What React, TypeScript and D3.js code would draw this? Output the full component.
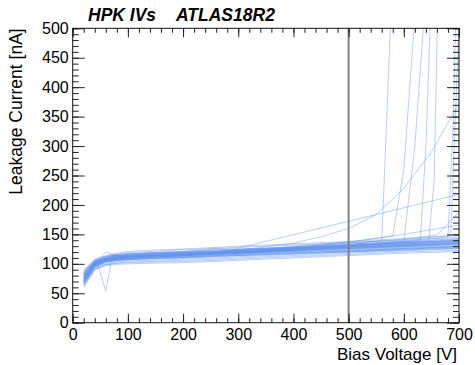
import React, { useEffect, useRef } from "react";
import * as d3 from "d3";

// shared bias-voltage steps for the "normal" sensors
const voltages = [20, 40, 60, 80, 100, 140, 200, 260, 300, 400, 500, 600, 700];

// leakage current [nA] per sensor, same order as voltages
const bandCurves: number[][] = [
  [62, 90, 97, 99, 100, 101, 102, 104, 106, 110, 114, 118, 121],
  [66, 92, 99, 101, 102, 103, 104, 106, 108, 112, 116, 120, 123],
  [70, 97, 104, 107, 108, 109, 111, 113, 114, 117, 120, 123, 126],
  [72, 98, 105, 108, 109, 111, 112, 114, 115, 118, 121, 124, 127],
  [75, 99, 106, 109, 110, 112, 113, 115, 116, 119, 122, 126, 129],
  [68, 96, 104, 108, 110, 112, 114, 116, 117, 120, 123, 127, 130],
  [78, 101, 107, 110, 111, 113, 114, 116, 118, 121, 124, 128, 131],
  [80, 102, 108, 111, 112, 114, 115, 117, 119, 122, 126, 129, 133],
  [64, 93, 100, 103, 105, 106, 108, 110, 112, 116, 120, 125, 129],
  [82, 103, 109, 112, 113, 115, 116, 118, 120, 123, 127, 131, 134],
  [74, 100, 107, 110, 112, 114, 116, 118, 119, 123, 126, 130, 134],
  [85, 104, 110, 113, 114, 116, 118, 120, 121, 125, 128, 132, 136],
  [77, 101, 108, 112, 113, 115, 117, 119, 121, 124, 128, 132, 137],
  [88, 106, 111, 114, 115, 117, 119, 121, 123, 126, 130, 134, 138],
  [71, 98, 106, 110, 112, 114, 116, 119, 120, 124, 129, 133, 138],
  [83, 104, 110, 114, 116, 118, 120, 122, 124, 127, 131, 136, 140],
  [79, 102, 109, 113, 115, 117, 119, 121, 122, 126, 130, 134, 139],
  [90, 108, 113, 116, 117, 119, 121, 123, 125, 128, 132, 137, 142],
  [60, 90, 98, 101, 103, 104, 106, 108, 110, 114, 118, 122, 126],
  [86, 105, 112, 115, 117, 119, 121, 124, 125, 129, 133, 138, 143],
  [73, 99, 108, 112, 114, 117, 119, 121, 123, 127, 131, 135, 140],
  [81, 103, 112, 116, 119, 121, 124, 126, 128, 132, 136, 140, 145],
  [87, 107, 114, 118, 121, 123, 125, 128, 130, 134, 138, 143, 148],
  [69, 97, 105, 109, 111, 113, 115, 117, 118, 121, 125, 129, 133],
  [76, 100, 107, 111, 113, 116, 118, 120, 122, 125, 129, 133, 136],
  [84, 105, 111, 114, 116, 118, 120, 127, 124, 128, 131, 135, 139],
  [67, 95, 104, 108, 110, 112, 114, 125, 119, 122, 126, 130, 135],
  [70, 96, 103, 106, 107, 109, 110, 112, 114, 118, 122, 126, 130],
  [79, 101, 108, 112, 114, 116, 118, 120, 122, 126, 131, 136, 141],
  [65, 94, 102, 105, 107, 108, 110, 113, 114, 118, 121, 125, 128],
];

// sensors with their own voltage points: [V, nA]
const dipCurve = [[20, 80], [45, 100], [60, 54], [72, 115], [100, 113], [140, 114], [200, 116], [260, 118], [300, 120], [400, 124], [500, 128], [600, 131], [700, 135]];
const peakCurve = [[20, 75], [43, 103], [60, 120], [73, 115], [100, 112], [200, 115], [300, 119], [400, 123], [500, 127], [600, 131], [700, 134]];
const linearRise = [[20, 72], [40, 99], [60, 106], [100, 109], [200, 114], [280, 122], [700, 218]];
const expRise = [[20, 70], [40, 97], [60, 105], [100, 108], [200, 113], [300, 123], [400, 135], [450, 146], [500, 160], [550, 184], [600, 228], [650, 290], [700, 372]];
const slowRiseA = [[20, 74], [40, 100], [60, 107], [100, 110], [200, 116], [300, 122], [400, 130], [500, 137], [600, 150], [700, 166]];
const slowRiseB = [[20, 78], [40, 101], [60, 108], [100, 111], [200, 115], [300, 120], [400, 128], [500, 135], [600, 142], [660, 149], [700, 188]];
const breakdownA = [[20, 70], [40, 98], [60, 105], [100, 108], [200, 112], [300, 117], [400, 124], [500, 132], [560, 140], [580, 600]];
const breakdownB = [[20, 80], [40, 102], [60, 108], [100, 111], [200, 115], [300, 120], [400, 128], [500, 137], [580, 147], [600, 260], [620, 520]];
const breakdownC = [[20, 76], [40, 100], [60, 107], [100, 110], [200, 114], [300, 118], [400, 125], [500, 131], [600, 138], [620, 300], [640, 560]];
const breakdownD = [[20, 66], [40, 95], [60, 103], [100, 107], [200, 111], [300, 116], [400, 122], [500, 129], [630, 140], [640, 300], [650, 560]];
const breakdownE = [[20, 84], [40, 104], [60, 110], [100, 113], [200, 117], [300, 121], [400, 126], [500, 131], [645, 138], [655, 242], [662, 560]];
const breakdownF = [[20, 72], [40, 99], [60, 106], [100, 110], [200, 114], [300, 119], [400, 126], [500, 133], [600, 139], [680, 145], [690, 350], [695, 560]];
const breakdownG = [[20, 82], [40, 103], [60, 109], [100, 112], [200, 116], [300, 121], [400, 128], [500, 135], [600, 141], [685, 148], [700, 510]];

const specialCurves = [dipCurve, peakCurve, linearRise, expRise, slowRiseA, slowRiseB, breakdownA, breakdownB, breakdownC, breakdownD, breakdownE, breakdownF, breakdownG];

const xMajor = [0, 100, 200, 300, 400, 500, 600, 700];
const yMajor = [0, 50, 100, 150, 200, 250, 300, 350, 400, 450, 500];
const cutVoltage = 500;

export default function App() {
  const svgRef = useRef<SVGSVGElement>(null);

  useEffect(() => {
    const width = 475;
    const height = 365;
    const marginLeft = 72.7;
    const marginRight = 16;
    const marginTop = 28.3;
    const marginBottom = 42.3;
    const font = "'Liberation Sans', Arial, Helvetica, sans-serif";

    const svg = d3.select(svgRef.current);
    svg.selectAll("*").remove();
    svg.attr("width", width).attr("height", height).attr("viewBox", [0, 0, width, height]);

    const x = d3.scaleLinear().domain([0, 700]).range([marginLeft, width - marginRight]);
    const y = d3.scaleLinear().domain([0, 500]).range([height - marginBottom, marginTop]);

    svg.append("defs").append("clipPath").attr("id", "plot-clip")
      .append("rect")
      .attr("x", x(0)).attr("y", y(500))
      .attr("width", x(700) - x(0)).attr("height", y(0) - y(500));

    const allCurves: number[][][] = [
      ...bandCurves.map((c) => c.map((v, i) => [voltages[i], v])),
      ...specialCurves,
    ];

    const line = d3.line<number[]>().x((d) => x(d[0])).y((d) => y(d[1]));

    svg.append("g")
      .attr("clip-path", "url(#plot-clip)")
      .selectAll("path")
      .data(allCurves)
      .join("path")
      .attr("d", line)
      .attr("fill", "none")
      .attr("stroke", "#6495ed")
      .attr("stroke-opacity", 0.45)
      .attr("stroke-width", 1);

    // vertical marker at 500 V
    svg.append("line")
      .attr("x1", x(cutVoltage)).attr("x2", x(cutVoltage))
      .attr("y1", y(0)).attr("y2", y(500))
      .attr("stroke", "#808080")
      .attr("stroke-width", 2);

    const styleAxis = (g: any) => {
      g.select(".domain").remove();
      g.selectAll(".tick line").attr("stroke", "#222");
      g.selectAll(".tick text").attr("font-family", font).attr("font-size", 16).attr("fill", "#000");
    };

    const xMinor = d3.range(0, 701, 20);
    const yMinor = d3.range(0, 501, 10);

    // bottom / top
    svg.append("g").attr("transform", `translate(0,${y(0)})`)
      .call(d3.axisBottom(x).tickValues(xMinor).tickSize(-4.5).tickFormat(() => ""))
      .call(styleAxis);
    svg.append("g").attr("transform", `translate(0,${y(0)})`)
      .call(d3.axisBottom(x).tickValues(xMajor).tickSize(-9).tickPadding(6).tickFormat(d3.format("d")))
      .call(styleAxis);
    svg.append("g").attr("transform", `translate(0,${y(500)})`)
      .call(d3.axisTop(x).tickValues(xMinor).tickSize(-4.5).tickFormat(() => ""))
      .call(styleAxis);
    svg.append("g").attr("transform", `translate(0,${y(500)})`)
      .call(d3.axisTop(x).tickValues(xMajor).tickSize(-9).tickFormat(() => ""))
      .call(styleAxis);

    // left / right
    svg.append("g").attr("transform", `translate(${x(0)},0)`)
      .call(d3.axisLeft(y).tickValues(yMinor).tickSize(-6).tickFormat(() => ""))
      .call(styleAxis);
    svg.append("g").attr("transform", `translate(${x(0)},0)`)
      .call(d3.axisLeft(y).tickValues(yMajor).tickSize(-12).tickPadding(4).tickFormat(d3.format("d")))
      .call(styleAxis);
    svg.append("g").attr("transform", `translate(${x(700)},0)`)
      .call(d3.axisRight(y).tickValues(yMinor).tickSize(-6).tickFormat(() => ""))
      .call(styleAxis);
    svg.append("g").attr("transform", `translate(${x(700)},0)`)
      .call(d3.axisRight(y).tickValues(yMajor).tickSize(-12).tickFormat(() => ""))
      .call(styleAxis);

    // frame
    svg.append("rect")
      .attr("x", x(0)).attr("y", y(500))
      .attr("width", x(700) - x(0)).attr("height", y(0) - y(500))
      .attr("fill", "none")
      .attr("stroke", "#111")
      .attr("stroke-width", 1);

    // titles
    const title = svg.append("g")
      .attr("font-family", font)
      .attr("font-weight", "bold")
      .attr("font-style", "italic")
      .attr("font-size", 17.5);
    title.append("text").attr("x", 88).attr("y", 21).text("HPK IVs");
    title.append("text").attr("x", 176).attr("y", 21).text("ATLAS18R2");

    svg.append("text")
      .attr("x", x(700) - 2).attr("y", 359.5)
      .attr("text-anchor", "end")
      .attr("font-family", font)
      .attr("font-size", 17)
      .text("Bias Voltage [V]");

    svg.append("text")
      .attr("transform", `translate(22,${y(500)}) rotate(-90)`)
      .attr("text-anchor", "end")
      .attr("font-family", font)
      .attr("font-size", 17.5)
      .text("Leakage Current [nA]");
  }, []);

  return (
    <svg ref={svgRef} style={{ position: "absolute", left: 0, top: 0, display: "block" }}></svg>
  );
}
